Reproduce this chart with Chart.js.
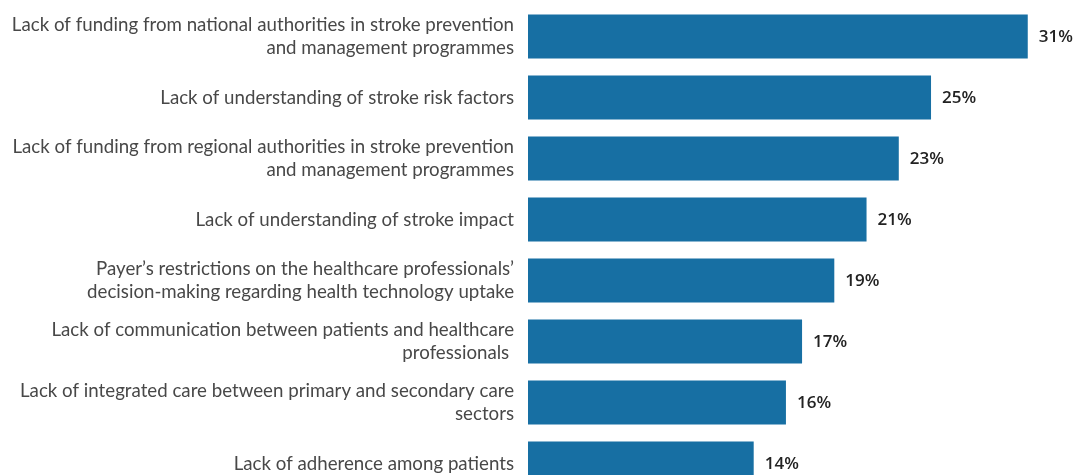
<!DOCTYPE html>
<html>
<head>
<meta charset="utf-8">
<script src="https://cdn.jsdelivr.net/npm/chart.js@4"></script>
<style>
  html, body { margin: 0; padding: 0; background: #fff; overflow: hidden; }
  #wrap { width: 1075px; height: 494px; position: relative; }
</style>
</head>
<body>
<div id="wrap"><canvas id="barChart"></canvas></div>
<script>
const ctx = document.getElementById('barChart')

let labelsY = [
    ['Lack of funding from national authorities in stroke prevention', 'and management programmes'],
    'Lack of understanding of stroke risk factors',
    ['Lack of funding from regional authorities in stroke prevention', 'and management programmes'],
    'Lack of understanding of stroke impact',
    ['Payer\u2019s restrictions on the healthcare professionals\u2019', 'decision-making regarding health technology uptake'],
    ['Lack of communication between patients and healthcare', 'professionals '],
    ['Lack of integrated care between primary and secondary care', 'sectors'],
    'Lack of adherence among patients'
]
let values = [31, 25, 23, 21, 19, 17, 16, 14]

const barColor = '#176fa3'

// value labels to the right of each bar
const valueLabels = {
    id: 'valueLabels',
    afterDatasetsDraw(chart) {
        const c = chart.ctx
        const meta = chart.getDatasetMeta(0)
        c.save()
        c.font = '600 17px "Open Sans"'
        c.fillStyle = '#222'
        c.textAlign = 'left'
        c.textBaseline = 'middle'
        meta.data.forEach((bar, i) => {
            c.fillText(values[i] + '%', bar.x + 11, bar.y + 1)
        })
        c.restore()
    }
}

new Chart(ctx, {
    type: 'bar',
    data: {
        labels: labelsY,
        datasets: [{
            label: '',
            data: values,
            backgroundColor: barColor,
            borderWidth: 0,
            barPercentage: 0.72,
            categoryPercentage: 1,
        }],
    },
    options: {
        indexAxis: 'y',
        responsive: true,
        maintainAspectRatio: false,
        animation: false,
        layout: {
            padding: { top: 6, right: 15, bottom: 0, left: 0 },
        },
        scales: {
            x: {
                display: false,
                min: 0,
                max: 33,
            },
            y: {
                grid: { display: false, drawTicks: false },
                border: { display: false },
                ticks: {
                    color: '#484848',
                    padding: 14,
                    font: { size: 18.7, family: 'Lato', lineHeight: 1.23 },
                },
                afterFit(scale) {
                    scale.width = 528
                    scale.paddingTop = 0
                    scale.paddingBottom = 0
                },
            },
        },
        plugins: {
            legend: { display: false },
            tooltip: { enabled: false },
        },
    },
    plugins: [valueLabels],
})
</script>
</body>
</html>
